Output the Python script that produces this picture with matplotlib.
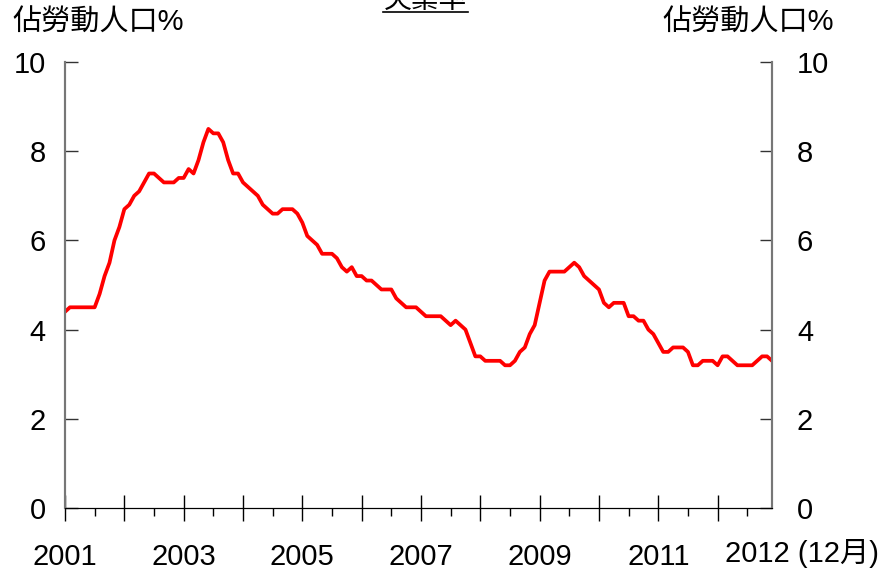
import matplotlib.pyplot as plt
from matplotlib.lines import Line2D

# monthly unemployment rate (% of labour force), Jan 2001 .. Dec 2012
rate_2001 = [4.4, 4.5, 4.5, 4.5, 4.5, 4.5, 4.5, 4.8, 5.2, 5.5, 6.0, 6.3]
rate_2002 = [6.7, 6.8, 7.0, 7.1, 7.3, 7.5, 7.5, 7.4, 7.3, 7.3, 7.3, 7.4]
rate_2003 = [7.4, 7.6, 7.5, 7.8, 8.2, 8.5, 8.4, 8.4, 8.2, 7.8, 7.5, 7.5]
rate_2004 = [7.3, 7.2, 7.1, 7.0, 6.8, 6.7, 6.6, 6.6, 6.7, 6.7, 6.7, 6.6]
rate_2005 = [6.4, 6.1, 6.0, 5.9, 5.7, 5.7, 5.7, 5.6, 5.4, 5.3, 5.4, 5.2]
rate_2006 = [5.2, 5.1, 5.1, 5.0, 4.9, 4.9, 4.9, 4.7, 4.6, 4.5, 4.5, 4.5]
rate_2007 = [4.4, 4.3, 4.3, 4.3, 4.3, 4.2, 4.1, 4.2, 4.1, 4.0, 3.7, 3.4]
rate_2008 = [3.4, 3.3, 3.3, 3.3, 3.3, 3.2, 3.2, 3.3, 3.5, 3.6, 3.9, 4.1]
rate_2009 = [4.6, 5.1, 5.3, 5.3, 5.3, 5.3, 5.4, 5.5, 5.4, 5.2, 5.1, 5.0]
rate_2010 = [4.9, 4.6, 4.5, 4.6, 4.6, 4.6, 4.3, 4.3, 4.2, 4.2, 4.0, 3.9]
rate_2011 = [3.7, 3.5, 3.5, 3.6, 3.6, 3.6, 3.5, 3.2, 3.2, 3.3, 3.3, 3.3]
rate_2012 = [3.2, 3.4, 3.4, 3.3, 3.2, 3.2, 3.2, 3.2, 3.3, 3.4, 3.4, 3.3]

years = list(range(2001, 2013))
rates = (rate_2001 + rate_2002 + rate_2003 + rate_2004 + rate_2005 + rate_2006
         + rate_2007 + rate_2008 + rate_2009 + rate_2010 + rate_2011 + rate_2012)
months = list(range(len(rates)))

title_text = "失業率"
axis_label = "佔勞動人口%"
end_label = "2012 (12月)"

fonts = ["Liberation Sans", "Noto Sans CJK TC", "DejaVu Sans"]
plt.rcParams["font.family"] = fonts

fig = plt.figure(figsize=(8.85, 5.75), dpi=100)
ax = fig.add_axes([65 / 885, 1 - 508 / 575, 707 / 885, 446 / 575])

ax.plot(months, rates, color="#ff0000", linewidth=2.7, solid_joinstyle="round")

ax.set_xlim(0, len(rates) - 1)
ax.set_ylim(0, 10)
ax.set_yticks(range(0, 11, 2))

# year ticks, labels every second year
ax.set_xticks([12 * i for i in range(len(years))])
ax.set_xticklabels([str(y) if i % 2 == 0 else "" for i, y in enumerate(years)])
ax.set_xticks([12 * i + 6 for i in range(len(years))], minor=True)
ax.tick_params(axis="x", which="major", direction="inout", length=19, width=1,
               labelsize=21, pad=16, color="black")
ax.tick_params(axis="x", which="minor", direction="out", length=6, width=1,
               color="black")
ax.tick_params(axis="y", direction="in", length=9, width=1, labelsize=21,
               pad=14, color="#333333")

ax2 = ax.twinx()
ax2.set_ylim(0, 10)
ax2.set_yticks(range(0, 11, 2))
ax2.tick_params(axis="y", direction="in", length=9, width=1, labelsize=21,
                pad=18, color="#333333")

for a in (ax, ax2):
    a.spines["top"].set_visible(False)
    a.spines["left"].set_color("#777777")
    a.spines["right"].set_color("#777777")
    a.spines["bottom"].set_color("black")
    a.spines["left"].set_linewidth(1.5)
    a.spines["right"].set_linewidth(1.5)

ax.annotate(end_label, xy=(len(rates) - 1, 0), xycoords=("data", "axes fraction"),
            xytext=(30, -46), textcoords="offset pixels",
            ha="center", va="center", fontsize=21)

fig.text(12 / 885, 1 - 23 / 575, axis_label, ha="left", va="center", fontsize=21)
fig.text(834 / 885, 1 - 23 / 575, axis_label, ha="right", va="center", fontsize=21)

# title sits mostly above the top edge, underlined
fig.text(425 / 885, 1 - 8 / 575, title_text, ha="center", va="baseline", fontsize=20)
fig.add_artist(Line2D([383 / 885, 468 / 885], [1 - 12 / 575, 1 - 12 / 575],
                      color="black", linewidth=1.2, transform=fig.transFigure))

fig.savefig("out.png", dpi=100)
